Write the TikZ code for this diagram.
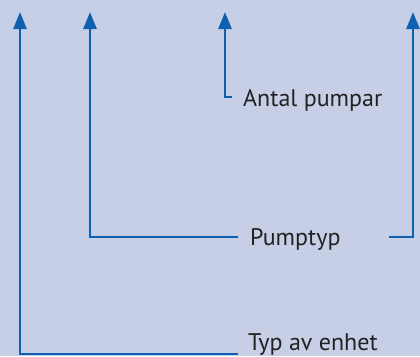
\documentclass[tikz,border=0pt]{standalone}
\usepackage{fontspec}
\setmainfont{PT Sans}
\usetikzlibrary{arrows.meta}
\definecolor{bg}{HTML}{C7CFE7}
\definecolor{ablue}{HTML}{1060B0}
\definecolor{txt}{HTML}{222222}
\begin{document}
\begin{tikzpicture}[x=1pt,y=-1pt,
  arr/.style={draw=ablue,line width=2.8pt,-{Triangle[width=13pt,length=17pt]}},
  lbl/.style={anchor=base west,inner sep=0pt,text=txt,font=\fontsize{24}{27}\selectfont}]
\fill[bg] (0,0) rectangle (420,356);
\useasboundingbox (0,0) rectangle (420,356);
\coordinate (t1) at (20,12);
\coordinate (t2) at (90,12);
\coordinate (t3) at (225,12);
\coordinate (t4) at (413,12);
\coordinate (e1) at (238,354);
\coordinate (e2) at (238,237);
\coordinate (e3) at (232,97);
\coordinate (e4) at (389,237);
\node[lbl] (typ) at (248,350) {Typ av enhet};
\node[lbl] (pump) at (250,245) {Pumptyp};
\node[lbl] (antal) at (243,106) {Antal pumpar};
\draw[arr] (e1) -| (t1);
\draw[arr] (e2) -| (t2);
\draw[arr] (e3) -| (t3);
\draw[arr] (e4) -| (t4);
\end{tikzpicture}
\end{document}
